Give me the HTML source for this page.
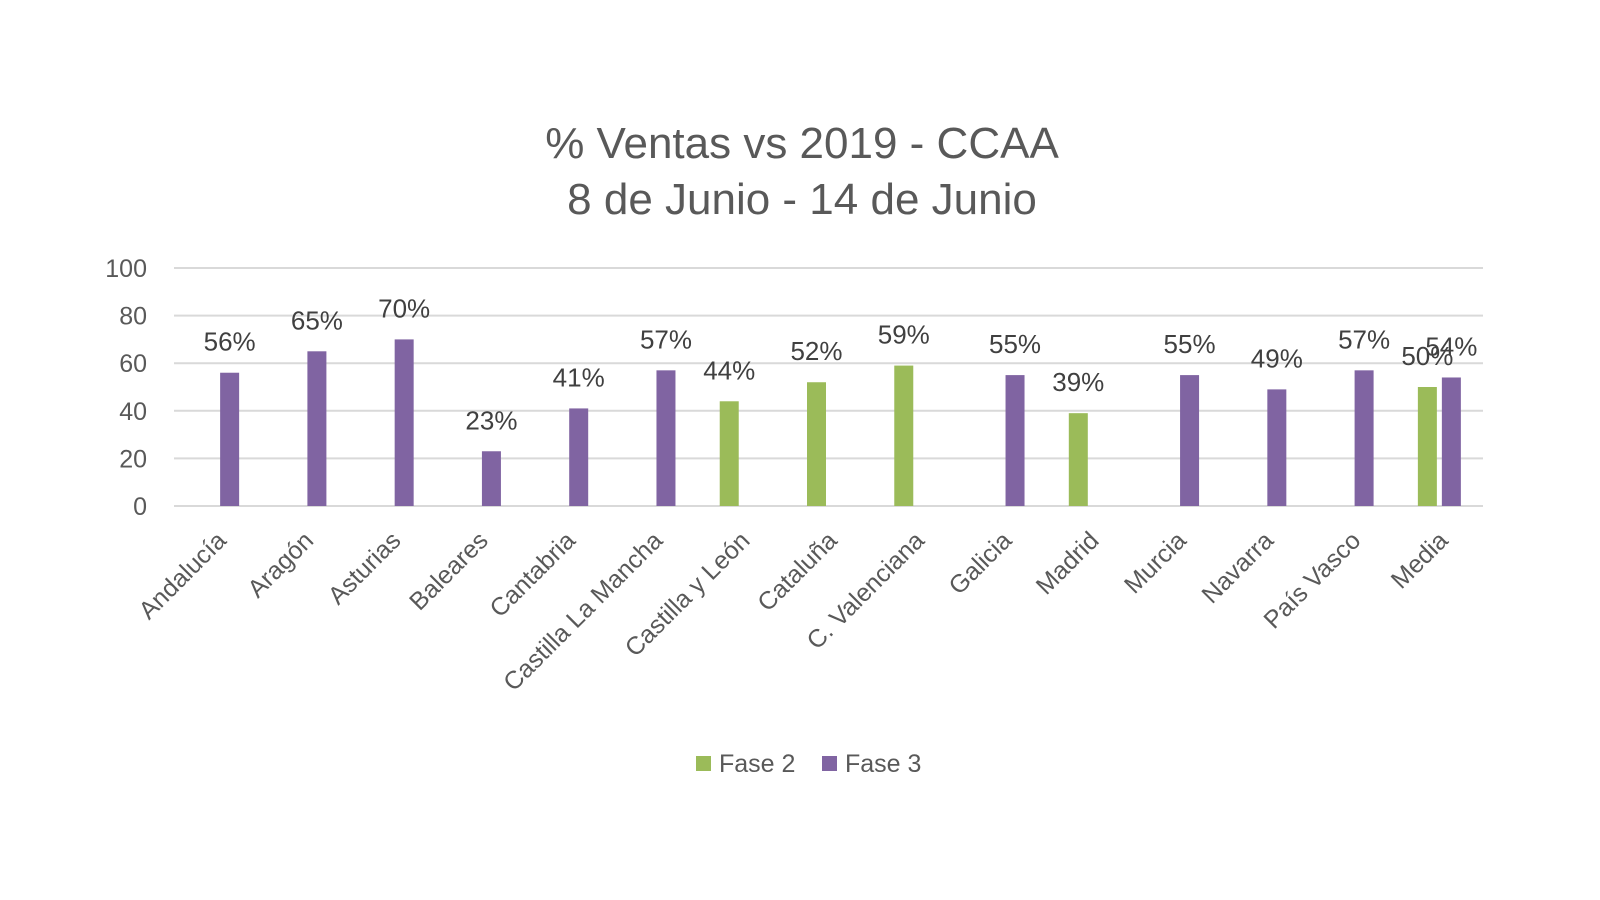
<!DOCTYPE html>
<html><head><meta charset="utf-8"><style>
html,body{margin:0;padding:0;background:#fff;}
svg{display:block;font-family:"Liberation Sans",sans-serif;}
</style></head><body>
<svg id="chart" width="1600" height="900" viewBox="0 0 1600 900" xmlns="http://www.w3.org/2000/svg">
<text x="802" y="158" text-anchor="middle" font-size="44" fill="#595959">% Ventas vs 2019 - CCAA</text>
<text x="802" y="214" text-anchor="middle" font-size="44" fill="#595959">8 de Junio - 14 de Junio</text>
<g id="grid"></g><g id="bars"></g><g id="labels"></g>
<g>
<rect x="696" y="756" width="15" height="15" fill="#9bbb59"/>
<text x="719" y="772" font-size="25" fill="#595959">Fase 2</text>
<rect x="822" y="756" width="15" height="15" fill="#8064a2"/>
<text x="845" y="772" font-size="25" fill="#595959">Fase 3</text>
</g>
</svg>
<script>
const categories=["Andalucía","Aragón","Asturias","Baleares","Cantabria","Castilla La Mancha","Castilla y León","Cataluña","C. Valenciana","Galicia","Madrid","Murcia","Navarra","País Vasco","Media"];
const fase2=[null,null,null,null,null,null,44,52,59,null,39,null,null,null,50];
const fase3=[56,65,70,23,41,57,null,null,null,55,null,55,49,57,54];
const yTicks=[0,20,40,60,80,100];
const NS="http://www.w3.org/2000/svg";
const x0=174,x1=1483,yTop=268,yBot=506;
const band=(x1-x0)/categories.length;
const xc=i=>x0+band*(i+0.5);
const y=v=>yBot-(v/100)*(yBot-yTop);
function mk(tag,attrs,parent,txt){const e=document.createElementNS(NS,tag);for(const k in attrs)e.setAttribute(k,attrs[k]);if(txt!=null)e.textContent=txt;parent.appendChild(e);return e;}
const grid=document.getElementById('grid'),bars=document.getElementById('bars'),labels=document.getElementById('labels');
yTicks.forEach(t=>{
  const l=mk('line',{x1:x0,x2:x1,y1:y(t),y2:y(t),stroke:'#d9d9d9','stroke-width':2},grid);
  
  
  const tx=mk('text',{x:147,y:y(t)+9,'text-anchor':'end','font-size':25,fill:'#595959'},grid,String(t));
  
  
});
const bw=19,off=12;
function drawSeries(vals,color,dx,name){
  vals.forEach((v,i)=>{
    if(v==null)return;
    const cx=xc(i)+dx;
    const r=mk('rect',{x:cx-bw/2,y:y(v),width:bw,height:yBot-y(v),fill:color},bars);
    
    
    const t=mk('text',{x:cx,y:y(v)-22,'text-anchor':'middle','font-size':26,fill:'#404040'},labels,v+'%');
    
    
  });
}
drawSeries(fase2,'#9bbb59',-off,'fase2');
drawSeries(fase3,'#8064a2',off,'fase3');
categories.forEach((c,i)=>{
  const ax=xc(i)+10,ay=542;
  const t=mk('text',{x:ax,y:ay,'text-anchor':'end','font-size':25,fill:'#595959',transform:`rotate(-45 ${ax} ${ay})`},labels,c);
  
  
});
</script>
</body></html>
